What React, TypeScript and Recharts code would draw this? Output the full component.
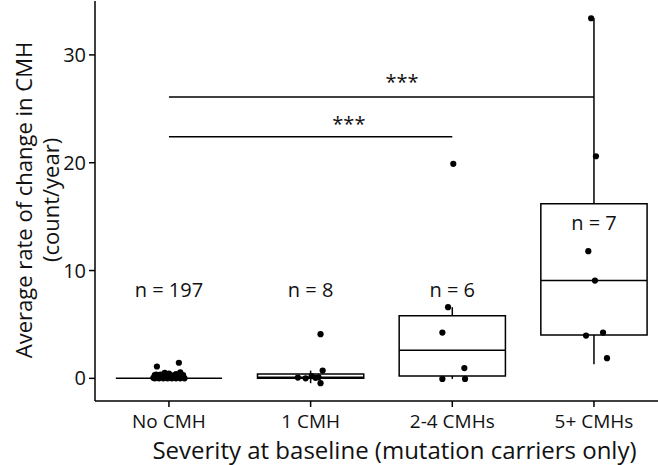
import {
  ComposedChart,
  Scatter,
  XAxis,
  YAxis,
  ReferenceArea,
  ReferenceLine,
  ReferenceDot,
  Label,
} from "recharts";

const categories = ["No CMH", "1 CMH", "2-4 CMHs", "5+ CMHs"];
const counts = [197, 8, 6, 7];

// box stats per group
const lowerWhisker = [0, -0.45, -0.05, 1.3];
const q1 = [0, 0, 0.23, 4.03];
const median = [0, 0.1, 2.6, 9.07];
const q3 = [0, 0.4, 5.8, 16.2];
const upperWhisker = [0, 0.72, 6.6, 33.4];

// jittered raw points (value, horizontal jitter in category units)
const noCmhValues = [1.1, 1.45, 0.55, 0.5, 0.45, 0.4, 0.35, 0.3, 0.3, 0.25, 0.2, 0.2, 0.15, 0.1, 0.1, 0.05, 0, 0, 0, 0, 0, 0, 0, 0, 0.05, 0.1, 0.15, 0.2, 0.3, 0.35];
const noCmhJitter = [-0.085, 0.07, 0.08, -0.03, 0.0, 0.05, -0.06, -0.1, 0.1, 0.02, -0.04, 0.06, 0.09, -0.08, 0.03, -0.11, -0.1, -0.07, -0.04, -0.01, 0.02, 0.05, 0.08, 0.11, -0.02, 0.0, -0.06, 0.1, 0.04, -0.09];
const oneCmhValues = [4.1, 0.72, 0.07, 0.05, 0.1, -0.45, 0.0, 0.2];
const oneCmhJitter = [0.07, 0.085, -0.09, 0.035, 0.056, 0.07, -0.035, 0.007];
const twoFourValues = [19.9, 6.6, 4.25, 0.95, -0.05, -0.05];
const twoFourJitter = [0.007, -0.03, -0.07, 0.085, -0.07, 0.09];
const fivePlusValues = [33.4, 20.6, 11.8, 9.07, 3.97, 4.25, 1.87];
const fivePlusJitter = [-0.02, 0.014, -0.04, 0.007, -0.056, 0.064, 0.092];

// significance brackets: from group, to group, height, star position
const sigFrom = [1, 1];
const sigTo = [3, 4];
const sigY = [22.4, 26.1];
const sigLabelX = [2.27, 2.645];
const sigLabelY = [23.6, 27.5];

const nLabelY = [8.2, 8.2, 8.2, 14.4];

const groups = [
  [noCmhValues, noCmhJitter],
  [oneCmhValues, oneCmhJitter],
  [twoFourValues, twoFourJitter],
  [fivePlusValues, fivePlusJitter],
];

const points = groups.flatMap(([vals, jit], i) =>
  vals.map((v, k) => ({ x: i + 1 + jit[k], y: v }))
);

const HALF = 0.375;
const FONT = "'Open Sans', 'Noto Sans', sans-serif";

const Dot = (props: any) => (
  <circle cx={props.cx} cy={props.cy} r={3.1} fill="#000" />
);

const YTitle = () => {
  const cy = 200;
  return (
    <g fontFamily={FONT} fontSize={22} fill="#111">
      <text x={23} y={cy} textAnchor="middle" dominantBaseline="central" transform={`rotate(-90 23 ${cy})`}>
        Average rate of change in CMH
      </text>
      <text x={50} y={cy} textAnchor="middle" dominantBaseline="central" transform={`rotate(-90 50 ${cy})`}>
        (count/year)
      </text>
    </g>
  );
};

export default function App() {
  return (
    <div style={{ position: "absolute", left: 0, top: 0, background: "#fff" }}>
      <ComposedChart
        width={658}
        height={465}
        margin={{ top: 1, right: 0, bottom: 0, left: 0 }}
        style={{ fontFamily: FONT }}
      >
        <XAxis
          type="number"
          dataKey="x"
          domain={[0.478, 4.452]}
          ticks={[1, 2, 3, 4]}
          tickFormatter={(v: number) => categories[Math.round(v) - 1]}
          allowDataOverflow
          height={64}
          tickSize={6}
          tickMargin={8}
          tick={{ fill: "#111", fontSize: 19 }}
          axisLine={{ stroke: "#000", strokeWidth: 1.5 }}
          tickLine={{ stroke: "#000", strokeWidth: 1.5 }}
        >
          <Label
            value="Severity at baseline (mutation carriers only)"
            position="insideBottom"
            offset={6}
            dx={18}
            style={{ fontSize: 24, fill: "#111" }}
          />
        </XAxis>
        <YAxis
          type="number"
          dataKey="y"
          domain={[-2.1, 35]}
          ticks={[0, 10, 20, 30]}
          allowDataOverflow
          width={95}
          tickSize={6}
          tickMargin={3}
          tick={{ fill: "#111", fontSize: 20 }}
          axisLine={{ stroke: "#000", strokeWidth: 1.5 }}
          tickLine={{ stroke: "#000", strokeWidth: 1.5 }}
        >
          <Label content={YTitle} />
        </YAxis>

        {categories.map((c, i) =>
          q3[i] > q1[i] ? (
            <ReferenceArea
              key={"box" + c}
              x1={i + 1 - HALF}
              x2={i + 1 + HALF}
              y1={q1[i]}
              y2={q3[i]}
              fill="#fff"
              fillOpacity={0}
              stroke="#000"
              strokeWidth={1.5}
              ifOverflow="visible"
            />
          ) : null
        )}
        {categories.map((c, i) => (
          <ReferenceLine
            key={"med" + c}
            segment={[
              { x: i + 1 - HALF, y: median[i] },
              { x: i + 1 + HALF, y: median[i] },
            ]}
            stroke="#000"
            strokeWidth={1.5}
            ifOverflow="visible"
          />
        ))}
        {categories.map((c, i) =>
          upperWhisker[i] > q3[i] ? (
            <ReferenceLine
              key={"wu" + c}
              segment={[
                { x: i + 1, y: q3[i] },
                { x: i + 1, y: upperWhisker[i] },
              ]}
              stroke="#000"
              strokeWidth={1.5}
              ifOverflow="visible"
            />
          ) : null
        )}
        {categories.map((c, i) =>
          lowerWhisker[i] < q1[i] ? (
            <ReferenceLine
              key={"wl" + c}
              segment={[
                { x: i + 1, y: q1[i] },
                { x: i + 1, y: lowerWhisker[i] },
              ]}
              stroke="#000"
              strokeWidth={1.5}
              ifOverflow="visible"
            />
          ) : null
        )}
        {sigY.map((y, k) => (
          <ReferenceLine
            key={"sig" + k}
            segment={[
              { x: sigFrom[k], y },
              { x: sigTo[k], y },
            ]}
            stroke="#000"
            strokeWidth={1.5}
            ifOverflow="visible"
          />
        ))}
        {sigY.map((_, k) => (
          <ReferenceDot
            key={"star" + k}
            x={sigLabelX[k]}
            y={sigLabelY[k]}
            r={0}
            fill="none"
            stroke="none"
            ifOverflow="visible"
            label={{ value: "***", position: "center", fontSize: 20, fill: "#111" }}
          />
        ))}
        {counts.map((n, i) => (
          <ReferenceDot
            key={"n" + i}
            x={i + 1}
            y={nLabelY[i]}
            r={0}
            fill="none"
            stroke="none"
            ifOverflow="visible"
            label={{ value: `n = ${n}`, position: "center", fontSize: 20, fill: "#111" }}
          />
        ))}

        <Scatter data={points} shape={Dot} isAnimationActive={false} />
      </ComposedChart>
    </div>
  );
}
